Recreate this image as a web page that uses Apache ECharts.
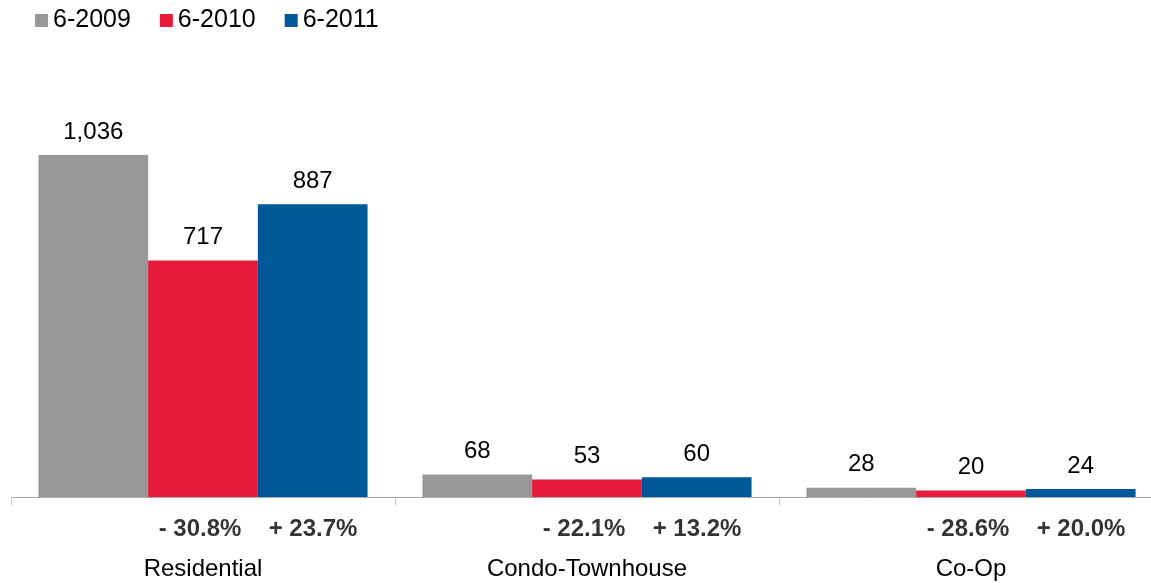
<!DOCTYPE html>
<html>
<head>
<meta charset="utf-8">
<script src="https://cdn.jsdelivr.net/npm/echarts@6/dist/echarts.min.js"></script>
<style>
html,body{margin:0;padding:0;background:#fff;}
#chart{width:1151px;height:583px;}
</style>
</head>
<body>
<div id="chart"></div>
<script>
const categories = ["Residential", "Condo-Townhouse", "Co-Op"];
const seriesNames = ["6-2009", "6-2010", "6-2011"];
const values2009 = [1036, 68, 28];
const values2010 = [717, 53, 20];
const values2011 = [887, 60, 24];
const pct2010 = ["- 30.8%", "- 22.1%", "- 28.6%"];
const pct2011 = ["+ 23.7%", "+ 13.2%", "+ 20.0%"];
const colors = ["#989898", "#E61B3C", "#005898"];

const FONT = "Liberation Sans, Arial, Helvetica, sans-serif";
const chart = echarts.init(document.getElementById('chart'));

function barSeries(name, data, color) {
  return {
    name: name, type: 'bar', data: data, barGap: '0%', barCategoryGap: '14.3%',
    itemStyle: { color: color },
    label: {
      show: true, position: 'top', distance: 11, color: '#000',
      fontFamily: FONT, fontSize: 24,
      formatter: p => p.value.toLocaleString('en-US')
    }
  };
}
function pctSeries(labels, offsetX) {
  return {
    type: 'scatter', data: labels.map(() => 0), symbolSize: 0, clip: false,
    silent: true, legendHoverLink: false, tooltip: { show: false },
    label: {
      show: true, position: 'bottom', distance: 20, offset: [offsetX, 0],
      color: '#000', fontFamily: FONT, fontSize: 24, fontWeight: 'bold',
      formatter: p => labels[p.dataIndex]
    }
  };
}

chart.setOption({
  animation: false,
  legend: {
    data: seriesNames, left: 30, top: 3, itemWidth: 13, itemHeight: 13, itemGap: 29,
    icon: 'rect',
    textStyle: { fontFamily: FONT, fontSize: 25, color: '#000', padding: [0, 0, 0, 0] }
  },
  grid: { left: 11, top: 101, width: 1152, bottom: 86, containLabel: false, outerBoundsMode: 'none' },
  xAxis: {
    type: 'category', data: categories,
    axisLine: { lineStyle: { color: '#a8a8a8', width: 1 } },
    axisTick: { show: true, length: 8, lineStyle: { color: '#c8c8c8' } },
    axisLabel: { margin: 60, color: '#000', fontFamily: FONT, fontSize: 24 }
  },
  yAxis: { type: 'value', min: 0, max: 1200, show: false, splitLine: { show: false } },
  series: [
    barSeries(seriesNames[0], values2009, colors[0]),
    barSeries(seriesNames[1], values2010, colors[1]),
    barSeries(seriesNames[2], values2011, colors[2]),
    pctSeries(pct2010, -3),
    pctSeries(pct2011, 110)
  ]
});
</script>
</body>
</html>
